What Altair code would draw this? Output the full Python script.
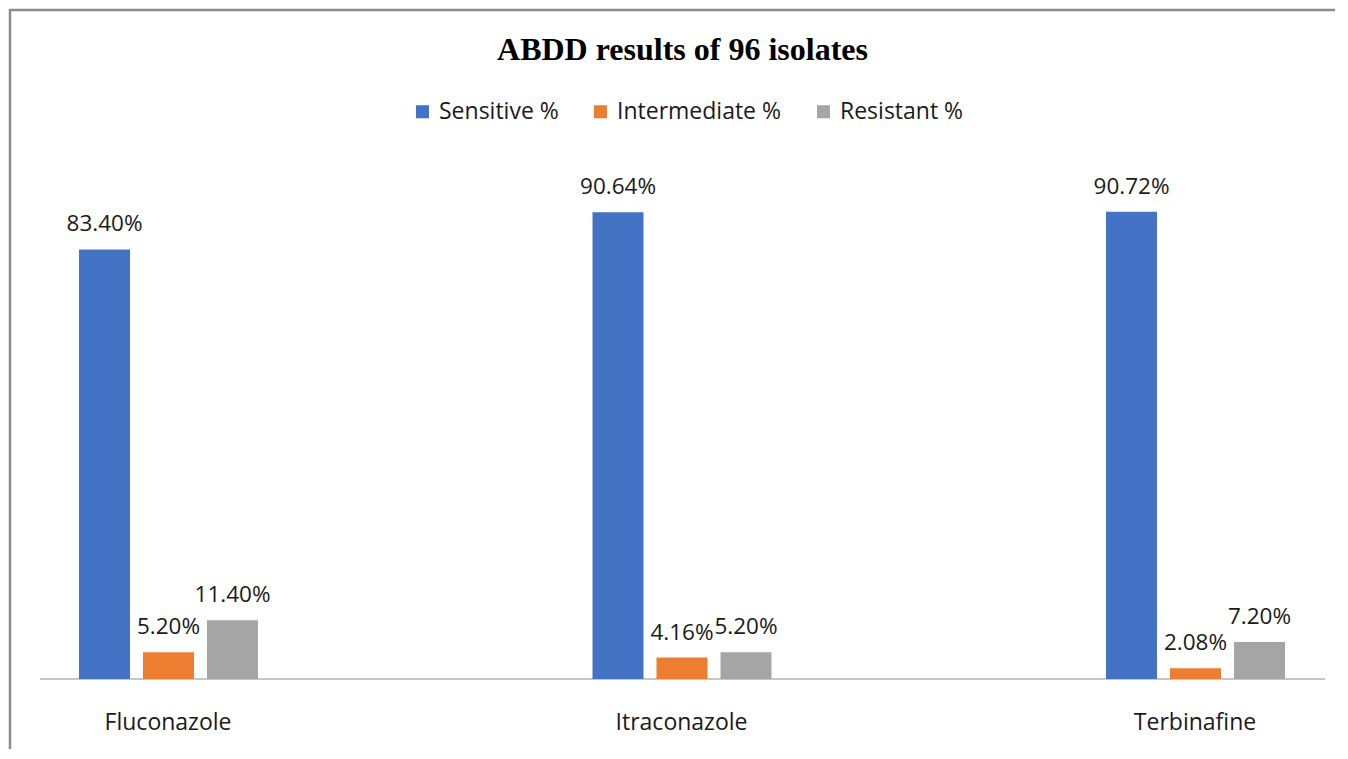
import altair as alt
import pandas as pd

drugs = ["Fluconazole", "Itraconazole", "Terbinafine"]
series = ["Sensitive %", "Intermediate %", "Resistant %"]
sensitive = [83.40, 90.64, 90.72]
intermediate = [5.20, 4.16, 2.08]
resistant = [11.40, 5.20, 7.20]
colors = ["#4472C4", "#ED7D31", "#A5A5A5"]
title_text = "ABDD results of 96 isolates"

rows = []
for i, d in enumerate(drugs):
    for s, vals in zip(series, [sensitive, intermediate, resistant]):
        rows.append({"drug": d, "series": s, "value": vals[i]})
df = pd.DataFrame(rows)

W, H = 1285, 515
PAD_L, PAD_T, PAD_R, PAD_B = 32, 156, 10, 70
FONT = "Open Sans"
TXT = "#1a1a1a"

x = alt.X(
    "drug:N",
    sort=drugs,
    scale=alt.Scale(range=[-128.75, 1411.75], paddingInner=0, paddingOuter=0),
    axis=alt.Axis(title=None, domain=False, ticks=False, labelAngle=0,
                  labelFont=FONT, labelFontSize=23, labelColor=TXT,
                  labelPadding=32, labelBaseline="top"),
)
xo = alt.XOffset("series:N", sort=series,
                 scale=alt.Scale(range=[167.75, 346.75], paddingInner=0.2031, paddingOuter=0))
y = alt.Y("value:Q", scale=alt.Scale(domain=[0, 100]), axis=None)
color = alt.Color(
    "series:N", sort=series,
    scale=alt.Scale(domain=series, range=colors),
    legend=alt.Legend(title=None, orient="none", legendX=371, legendY=-64,
                      direction="horizontal", symbolType="square", symbolSize=170,
                      symbolStrokeWidth=0, labelFont=FONT, labelFontSize=23,
                      labelColor=TXT, columnPadding=30, labelOffset=5, labelLimit=400),
)

base = alt.Chart(df)
bars = base.mark_bar().encode(x=x, xOffset=xo, y=y, color=color)
labels = base.transform_calculate(
    label="format(datum.value, '.2f') + '%'"
).mark_text(font=FONT, fontSize=22.5, color=TXT, baseline="alphabetic", dy=-18).encode(
    x=x, xOffset=xo, y=y, text="label:N"
)

one = pd.DataFrame({"t": [title_text]})
baseline = alt.Chart(one).mark_rule(color="#b4b4b4", strokeWidth=1.5).encode(
    x=alt.value(0), x2=alt.value(W), y=alt.value(H)
)
frame_top = alt.Chart(one).mark_rule(color="#8c8c8c", strokeWidth=2.5).encode(
    x=alt.value(-30), x2=alt.value(W + PAD_R), y=alt.value(-154)
)
frame_left = alt.Chart(one).mark_rule(color="#8c8c8c", strokeWidth=2.5).encode(
    x=alt.value(-30), y=alt.value(-155), y2=alt.value(H + PAD_B)
)
title = alt.Chart(one).mark_text(font="Liberation Serif", fontSize=32, fontWeight="bold",
                                 color="black", align="center", baseline="alphabetic").encode(
    x=alt.value(W / 2), y=alt.value(-104), text="t:N"
)

chart = alt.layer(frame_top, frame_left, baseline, bars, labels, title).properties(
    width=W, height=H,
    autosize=alt.AutoSizeParams(type="none"),
    padding={"left": PAD_L, "top": PAD_T, "right": PAD_R, "bottom": PAD_B},
).configure_view(strokeWidth=0)

chart.save("out.html", embed_options={"renderer": "svg", "actions": False})
